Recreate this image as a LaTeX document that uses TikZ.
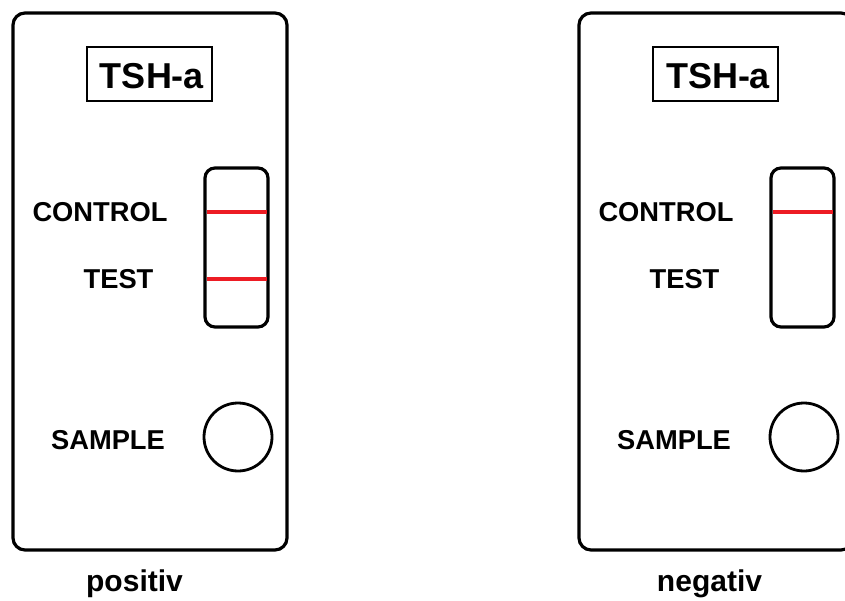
\documentclass[tikz,border=0pt]{standalone}
\usepackage{fontspec}
\setmainfont{Liberation Sans}
\definecolor{stripred}{RGB}{237,28,36}
\tikzset{
  card/.style={draw, line width=3.2pt, rounded corners=12pt, inner sep=0pt,
    minimum width=274pt, minimum height=537pt},
  titlebox/.style={draw, line width=2.8pt, inner sep=0pt,
    minimum width=125pt, minimum height=54pt},
  titletext/.style={anchor=base, inner sep=0pt, font=\fontsize{36}{40}\selectfont\bfseries},
  window/.style={draw, line width=3.2pt, rounded corners=10pt, inner sep=0pt,
    minimum width=63pt, minimum height=159pt},
  well/.style={draw, circle, line width=2.8pt, inner sep=0pt, minimum size=68pt},
  lbl/.style={anchor=base, inner sep=0pt, font=\fontsize{27.3}{31}\selectfont\bfseries},
  result/.style={anchor=base, inner sep=0pt, font=\fontsize{30}{34}\selectfont\bfseries},
  strip/.style={draw=stripred, line width=3.3pt}
}
\begin{document}
\begin{tikzpicture}[x=1pt, y=-1pt]
\useasboundingbox (0,0) rectangle (845,601);

% positive cassette
\node[card] (cardP) at (150,281.5) {};
\node[titlebox] (titleP) at (149.5,74) {};
\node[titletext] (nameP) at (152,89) {TSH-a};
\node[window] (winP) at (236.5,247.5) {};
\node[well] (wellP) at (238,437) {};
\node[lbl] (ctrlP) at (100,222) {CONTROL};
\node[lbl] (testP) at (118.5,289) {TEST};
\node[lbl] (sampP) at (108,449) {SAMPLE};
\coordinate (cLP) at (206.5,212);
\coordinate (cRP) at (266.5,212);
\coordinate (tLP) at (206.5,279);
\coordinate (tRP) at (266.5,279);
\draw[strip] (cLP) -- (cRP);
\draw[strip] (tLP) -- (tRP);
\node[result] (resP) at (134.5,591) {positiv};

% negative cassette
\begin{scope}[xshift=566pt]
\node[card] (cardN) at (150,281.5) {};
\node[titlebox] (titleN) at (149.5,74) {};
\node[titletext] (nameN) at (152,89) {TSH-a};
\node[window] (winN) at (236.5,247.5) {};
\node[well] (wellN) at (238,437) {};
\node[lbl] (ctrlN) at (100,222) {CONTROL};
\node[lbl] (testN) at (118.5,289) {TEST};
\node[lbl] (sampN) at (108,449) {SAMPLE};
\coordinate (cLN) at (206.5,212);
\coordinate (cRN) at (266.5,212);
\draw[strip] (cLN) -- (cRN);
\node[result] (resN) at (143.5,591) {negativ};
\end{scope}
\end{tikzpicture}
\end{document}
